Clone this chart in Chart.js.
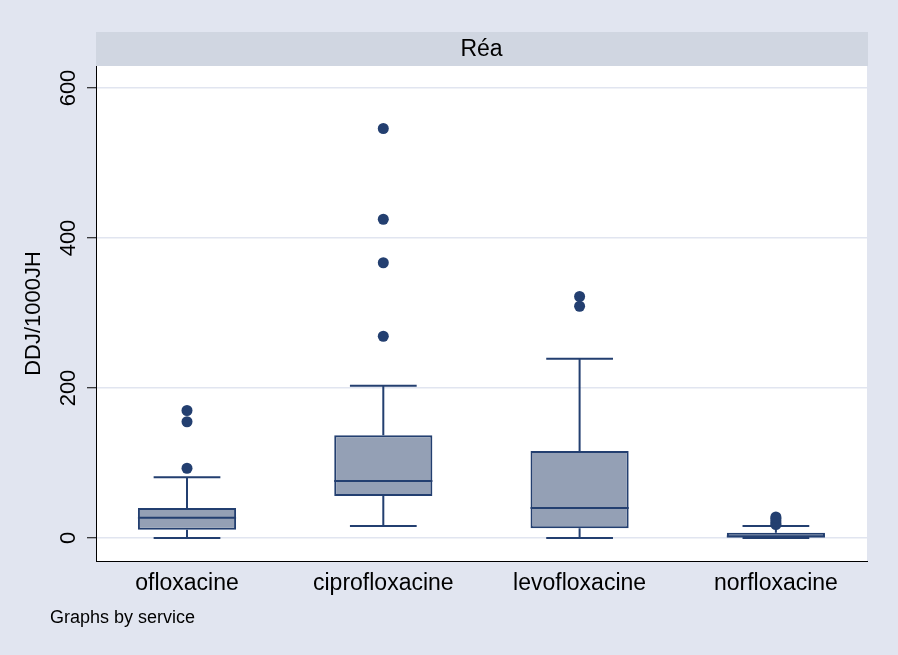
<!DOCTYPE html>
<html>
<head>
<meta charset="utf-8">
<title>DDJ/1000JH - Réa</title>
<script src="https://cdn.jsdelivr.net/npm/chart.js@4.4.1/dist/chart.umd.min.js"></script>
<style>
  html, body { margin: 0; padding: 0; background: #e1e5f0; }
  canvas { display: block; }
</style>
</head>
<body>
<canvas id="boxChart" width="898" height="655"></canvas>
<script>
// values (DDJ/1000JH)
const categories = ['ofloxacine', 'ciprofloxacine', 'levofloxacine', 'norfloxacine'];
const whiskerLow = [0, 16, 0, 0];
const q1 = [11, 56, 13, 1];
const median = [27, 76, 40, 2];
const q3 = [40, 137, 116, 7];
const whiskerHigh = [81, 203, 239, 16];
const outliers = [
  [93, 155, 170],
  [269, 367, 425, 546],
  [309, 322],
  [18, 20, 23, 26, 28]
];
const yTicks = [0, 200, 400, 600];
const panelTitle = 'Réa';
const yTitle = 'DDJ/1000JH';
const note = 'Graphs by service';

const navy = '#233f70';
const boxFill = '#94a0b5';
const fontFamily = '"Liberation Sans", Arial, Helvetica, sans-serif';
const capHalf = 0.17; // half width of whisker caps, in x units

// background, header strip and footnote
const stataFrame = {
  id: 'stataFrame',
  beforeDraw(chart) {
    const { ctx, chartArea: a } = chart;
    ctx.save();
    ctx.fillStyle = '#e1e5f0';
    ctx.fillRect(0, 0, chart.width, chart.height);
    ctx.fillStyle = '#ffffff';
    ctx.fillRect(a.left, a.top, a.right - a.left, a.bottom - a.top);
    ctx.fillStyle = '#d0d6e1';
    ctx.fillRect(a.left, 32, a.right - a.left + 1, a.top - 32);

    ctx.fillStyle = '#000';
    ctx.font = '23px ' + fontFamily;
    ctx.textAlign = 'center';
    ctx.textBaseline = 'middle';
    ctx.fillText(panelTitle, (a.left + a.right) / 2, (32 + a.top) / 2 + 1);

    ctx.font = '18px ' + fontFamily;
    ctx.textAlign = 'left';
    ctx.textBaseline = 'alphabetic';
    ctx.fillText(note, 50, 623);
    ctx.restore();
  }
};

// whiskers under the boxes, medians on top
const boxParts = {
  id: 'boxParts',
  beforeDatasetsDraw(chart) {
    const { ctx, scales: { x, y } } = chart;
    ctx.save();
    ctx.strokeStyle = navy;
    ctx.lineWidth = 2;
    categories.forEach((c, i) => {
      const cx = x.getPixelForValue(i + 1);
      const l = x.getPixelForValue(i + 1 - capHalf);
      const r = x.getPixelForValue(i + 1 + capHalf);
      const yHi = y.getPixelForValue(whiskerHigh[i]);
      const yLo = y.getPixelForValue(whiskerLow[i]);
      ctx.beginPath();
      ctx.moveTo(cx, y.getPixelForValue(q3[i]));
      ctx.lineTo(cx, yHi);
      ctx.moveTo(l, yHi);
      ctx.lineTo(r, yHi);
      ctx.moveTo(cx, y.getPixelForValue(q1[i]));
      ctx.lineTo(cx, yLo);
      ctx.moveTo(l, yLo);
      ctx.lineTo(r, yLo);
      ctx.stroke();
    });
    ctx.restore();
  },
  afterDatasetsDraw(chart) {
    const { ctx, scales: { y } } = chart;
    const bars = chart.getDatasetMeta(0).data;
    ctx.save();
    ctx.strokeStyle = navy;
    ctx.lineWidth = 2;
    bars.forEach((bar, i) => {
      const ym = y.getPixelForValue(median[i]);
      ctx.beginPath();
      ctx.moveTo(bar.x - bar.width / 2, ym);
      ctx.lineTo(bar.x + bar.width / 2, ym);
      ctx.stroke();
    });
    ctx.restore();
  }
};

const ctx = document.getElementById('boxChart').getContext('2d');
const chart = new Chart(ctx, {
  type: 'bar',
  data: {
    datasets: [{
      label: 'box',
      data: categories.map((c, i) => ({ x: i + 1, y: [q1[i], q3[i]] })),
      backgroundColor: boxFill,
      borderColor: navy,
      borderWidth: 2,
      borderSkipped: false,
      barPercentage: 0.5,
      categoryPercentage: 1,
      order: 2
    }, {
      type: 'scatter',
      label: 'outliers',
      data: outliers.flatMap((vals, i) => vals.map(v => ({ x: i + 1, y: v }))),
      pointRadius: 5.5,
      pointBackgroundColor: navy,
      pointBorderWidth: 0,
      order: 1
    }]
  },
  options: {
    responsive: false,
    animation: false,
    devicePixelRatio: 1,
    layout: { padding: { left: 0, top: 66, right: 31, bottom: 54 } },
    plugins: {
      legend: { display: false },
      tooltip: { enabled: false }
    },
    scales: {
      x: {
        type: 'linear',
        offset: false,
        min: 0.5364,
        max: 4.4641,
        afterBuildTicks: s => { s.ticks = categories.map((c, i) => ({ value: i + 1 })); },
        afterFit: s => { s.height = 40; },
        grid: { display: false, drawTicks: false },
        border: { display: true, color: '#000', width: 1 },
        ticks: {
          autoSkip: false,
          maxRotation: 0,
          padding: 9,
          color: '#000',
          font: { family: fontFamily, size: 23 },
          callback: v => categories[v - 1]
        }
      },
      y: {
        min: -30.67,
        max: 629.33,
        afterBuildTicks: s => { s.ticks = yTicks.map(v => ({ value: v })); },
        afterFit: s => { s.width = 96; },
        grid: {
          color: '#e1e5f0',
          lineWidth: 1.5,
          tickColor: '#000',
          tickLength: 9,
          tickWidth: 1
        },
        border: { display: true, color: '#000', width: 1 },
        ticks: {
          minRotation: 90,
          maxRotation: 90,
          crossAlign: 'center',
          padding: 0,
          color: '#000',
          font: { family: fontFamily, size: 22 }
        },
        title: {
          display: true,
          text: yTitle,
          color: '#000',
          font: { family: fontFamily, size: 22 },
          padding: { top: 21, bottom: 0 }
        }
      }
    }
  },
  plugins: [stataFrame, boxParts]
});
</script>
</body>
</html>
